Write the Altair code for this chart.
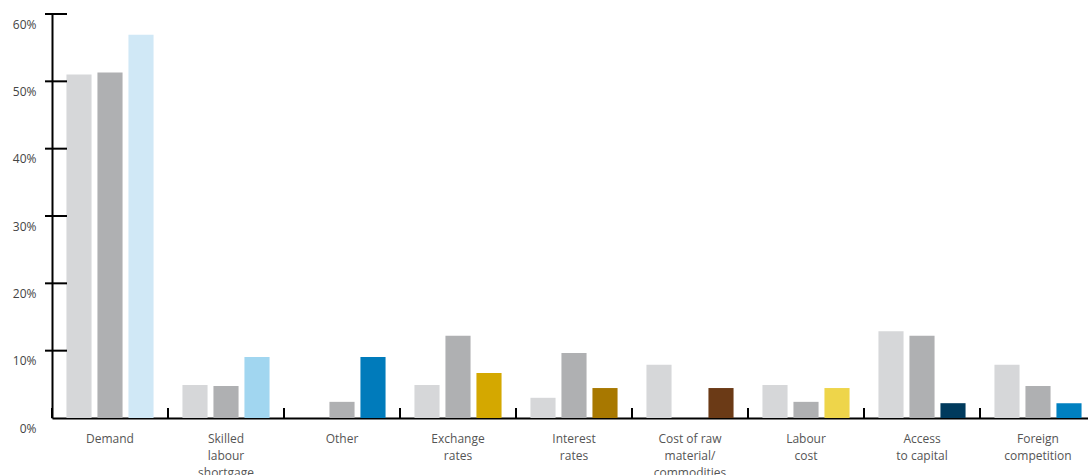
import altair as alt
import pandas as pd

categories = ["Demand", "Skilled\nlabour\nshortgage", "Other", "Exchange\nrates", "Interest\nrates",
              "Cost of raw\nmaterial/\ncommodities", "Labour\ncost", "Access\nto capital", "Foreign\ncompetition"]
series1 = [51, 4.9, 0, 4.9, 3.0, 7.9, 4.9, 12.9, 7.9]
series2 = [51.3, 4.75, 2.4, 12.2, 9.65, 0, 2.4, 12.2, 4.75]
series3 = [56.9, 9.05, 9.05, 6.7, 4.45, 4.45, 4.45, 2.2, 2.2]
gray1 = "#d6d7d9"
gray2 = "#afb0b2"
highlight = ["#d0e8f6", "#a1d6f0", "#007bbb", "#d4a800", "#a87800", "#6b3a16", "#eed54a", "#003a5d", "#0080c0"]
y_ticks = [10, 20, 30, 40, 50, 60]

rows = []
for i, c in enumerate(categories):
    rows.append({"cat": c, "s": 0, "v": series1[i], "col": gray1})
    rows.append({"cat": c, "s": 1, "v": series2[i], "col": gray2})
    rows.append({"cat": c, "s": 2, "v": series3[i], "col": highlight[i]})
df = pd.DataFrame(rows)

xsort = categories
bars = alt.Chart(df).mark_bar().encode(
    x=alt.X("cat:N", sort=xsort, title=None,
            scale=alt.Scale(paddingInner=0, paddingOuter=0, range=[0, 1044]),
            axis=alt.Axis(labelAngle=0, ticks=False, labelPadding=15,
                          labelExpr="split(datum.label, '\\n')",
                          labelLineHeight=17, labelFontSize=12, labelColor="#555555",
                          labelFont="Open Sans", domainColor="#000000", domainWidth=2,
                          labelBaseline="top")),
    xOffset=alt.XOffset("s:O", scale=alt.Scale(paddingInner=0.19, paddingOuter=0.466)),
    y=alt.Y("v:Q", title=None, scale=alt.Scale(domain=[0, 60], nice=False),
            axis=alt.Axis(values=[0, 10, 20, 30, 40, 50, 60], ticks=False, grid=False,
                          labelExpr="datum.value + '%'", labelPadding=16, labelOffset=10,
                          labelFontSize=12, labelColor="#444444", labelFont="Open Sans",
                          domainColor="#000000", domainWidth=2)),
    color=alt.Color("col:N", scale=None),
)

sep = alt.Chart(pd.DataFrame({"cat": categories})).mark_rule(color="#000000", strokeWidth=2).encode(
    x=alt.X("cat:N", sort=xsort, bandPosition=0),
    y=alt.value(404),
    y2=alt.value(394),
)

yt = alt.Chart(pd.DataFrame({"t": y_ticks})).mark_rule(color="#000000", strokeWidth=2).encode(
    y=alt.Y("t:Q"),
    x=alt.value(-7),
    x2=alt.value(15),
)

chart = alt.layer(bars, sep, yt).properties(
    width=1036, height=404,
    autosize=alt.AutoSizeParams(type="none"),
    padding={"left": 52, "top": 14, "right": 0, "bottom": 57},
).configure_view(stroke=None)

chart.save("out.html", embed_options={"renderer": "svg", "actions": False})
